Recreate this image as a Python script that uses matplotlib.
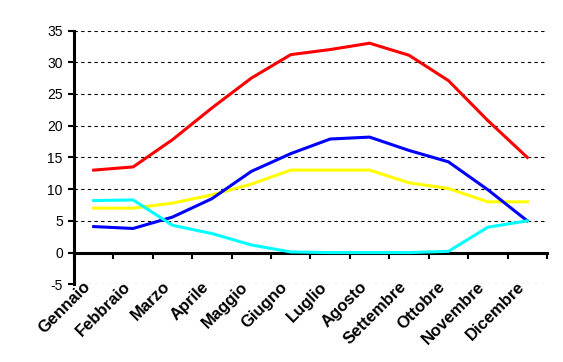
import numpy as np
import matplotlib
matplotlib.use("Agg")
from matplotlib import pyplot as plt

mesi = ["Gennaio", "Febbraio", "Marzo", "Aprile", "Maggio", "Giugno",
        "Luglio", "Agosto", "Settembre", "Ottobre", "Novembre", "Dicembre"]
rossa = [13, 13.5, 17.8, 22.8, 27.5, 31.2, 32, 33, 31.1, 27.1, 20.8, 15]
blu = [4.1, 3.8, 5.6, 8.5, 12.8, 15.6, 17.9, 18.2, 16.1, 14.3, 9.9, 5]
gialla = [7, 7, 7.8, 9.1, 10.8, 13, 13, 13, 11, 10.1, 8, 8]
ciano = [8.2, 8.3, 4.3, 3, 1.2, 0.1, 0, 0, 0, 0.2, 4, 5]

plt.rcParams['font.family'] = ['Liberation Sans', 'DejaVu Sans']
plt.rcParams['axes.unicode_minus'] = False

fig = plt.figure(figsize=(5.63, 3.62), dpi=100)
ax = fig.add_axes([0.1314, 0.2146, 0.8402, 0.7011])

x = np.arange(len(mesi))
ax.plot(x, gialla, color='#FFFF00', lw=2.2, zorder=3)
ax.plot(x, blu, color='#0000FF', lw=2.2, zorder=3)
ax.plot(x, ciano, color='#00FFFF', lw=2.2, zorder=3)
ax.plot(x, rossa, color='#FF0000', lw=2.2, zorder=3)

ax.set_xlim(-0.5, 11.5)
ax.set_ylim(-5, 35)
ax.set_yticks(np.arange(-5, 36, 5))
ax.yaxis.grid(True, color='black', linestyle=(0, (3, 3)), lw=0.8)
ax.set_axisbelow(True)

for s in ['top', 'right']:
    ax.spines[s].set_visible(False)
ax.spines['left'].set_linewidth(2.2)
ax.spines['bottom'].set_linewidth(2.2)
ax.spines['bottom'].set_position(('data', 0))
ax.spines['bottom'].set_zorder(2.5)

ax.tick_params(axis='y', direction='out', length=4, width=1.5, labelsize=10, pad=4)
ax.set_xticks(x)
ax.set_xticks(np.arange(-0.5, 12, 1), minor=True)
ax.tick_params(axis='x', which='major', length=0, pad=19)
ax.tick_params(axis='x', which='minor', direction='out', length=4, width=1.5)
ax.set_xticklabels(mesi, rotation=45, ha='right', fontsize=12, fontweight='bold')

fig.savefig("out.png", dpi=100)
